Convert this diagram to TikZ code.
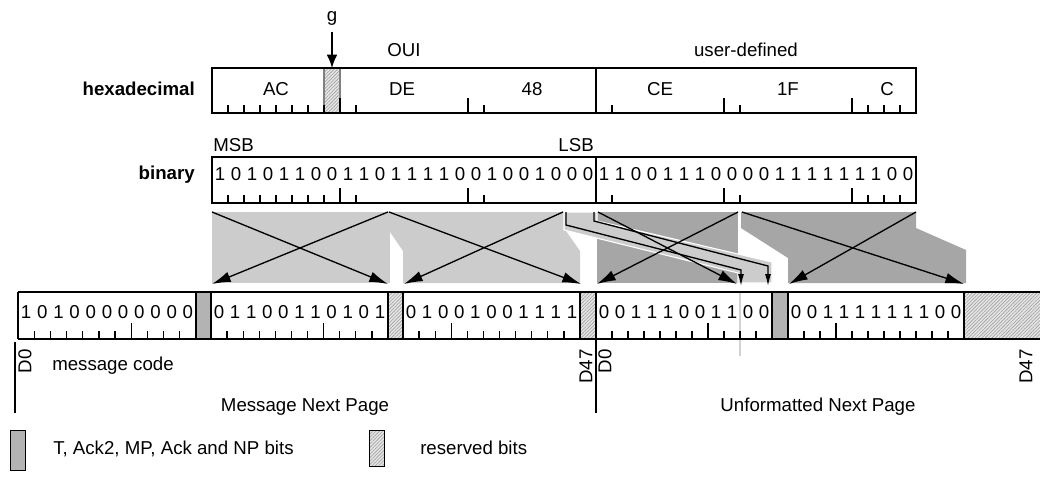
\documentclass[tikz,border=0pt]{standalone}
\usepackage{fontspec}
\setmainfont{Liberation Sans}
\usetikzlibrary{arrows.meta,patterns.meta}
\definecolor{lg}{HTML}{CCCCCC}
\definecolor{dg}{HTML}{A6A6A6}
\definecolor{bitgray}{HTML}{B3B3B3}
\begin{document}
\begin{tikzpicture}[x=0.75pt,y=-0.75pt,
  font=\fontsize{14}{16}\selectfont,
  txt/.style={inner sep=0pt},
  boxline/.style={draw=black,line width=1.4pt},
  tickline/.style={line width=1pt},
  xarrow/.style={line width=1pt,-{Latex[length=14pt,width=8pt]}},
  darrow/.style={line width=1pt,-{Latex[length=9pt,width=4.5pt]}},
  rsvd/.style={preaction={fill=gray!20},pattern={Lines[angle=45,distance=1.8pt,line width=0.45pt]},pattern color=gray!75},
  bitfill/.style={fill=bitgray}]
\useasboundingbox (0,0) rectangle (1040,478);

% ---------- top labels ----------
\node[txt] (g) at (332,18) {g};
\draw[line width=1.1pt,-{Latex[length=10pt,width=8pt]}] (332,32) -- (332,68);
\node[txt] (oui) at (404,50) {OUI};
\node[txt] (user) at (746,50) {user-defined};

% ---------- hexadecimal row ----------
\node[txt,anchor=east] (hexlab) at (195,89) {\bfseries hexadecimal};
\fill[rsvd] (324,68) rectangle (340,113);
\draw[gray,line width=1pt] (324,68) -- (324,113) (340,68) -- (340,113);
\foreach \i in {1,...,7,9,...,15,17,...,23,25,...,31,33,...,39,41,42,43}
  \draw[tickline] ({212+16*\i},113) -- ({212+16*\i},105);
\foreach \i in {8,16,32,40}
  \draw[tickline] ({212+16*\i},113) -- ({212+16*\i},98);
\draw[boxline] (212,68) rectangle (916,113);
\draw[boxline] (596,68) -- (596,113);
\foreach \t/\x [count=\n] in {AC/276,DE/402,48/532,CE/660,1F/788,C/887}
  \node[txt] (hx\n) at (\x,89) {\t};

% ---------- binary row ----------
\node[txt,anchor=west] (msb) at (213,145) {MSB};
\node[txt,anchor=east] (lsb) at (594,145) {LSB};
\node[txt,anchor=east] (binlab) at (195,175) {\bfseries binary};
\foreach \i in {1,...,7,9,...,15,17,...,23,25,...,31,33,...,39,41,42,43}
  \draw[tickline] ({212+16*\i},203) -- ({212+16*\i},195);
\foreach \i in {8,16,32,40}
  \draw[tickline] ({212+16*\i},203) -- ({212+16*\i},188);
\draw[boxline] (212,157) rectangle (916,203);
\draw[boxline] (596,157) -- (596,203);
\foreach \d [count=\k from 0] in {1,0,1,0,1,1,0,0,1,1,0,1,1,1,1,0,0,1,0,0,1,0,0,0,1,1,0,0,1,1,1,0,0,0,0,1,1,1,1,1,1,1,0,0}
  \node[txt] (bin\k) at ({220+16*\k},174) {\d};

% ---------- mapping shapes ----------
\fill[lg] (212,212) rectangle (390,283);
\fill[lg] (390,212) -- (564,212) -- (564,228) -- (580,251) -- (580,283) -- (403,283) -- (403,251) -- (390,232) -- cycle;
\fill[dg] (597,212) rectangle (738,283);
\fill[dg] (741,212) -- (916,212) -- (916,228) -- (966,250) -- (966,283) -- (788,283) -- (788,258) -- (741,228) -- cycle;
\filldraw[fill=lg,draw=white,line width=0.8pt] (564,212) -- (597,212) -- (597,221) -- (772,262) -- (772,283) -- (738,283) -- (738,273) -- (564,230) -- cycle;

\draw[xarrow] (212,212) -- (388,284);
\draw[xarrow] (388,212) -- (212,284);
\draw[xarrow] (389,212) -- (581,284);
\draw[xarrow] (563,212) -- (404,284);
\draw[xarrow] (598,212) -- (737,284);
\draw[xarrow] (738,212) -- (597,284);
\draw[xarrow] (742,212) -- (964,284);
\draw[xarrow] (916,212) -- (789,284);
\draw[darrow] (566,212) -- (566,225) -- (741,270) -- (741,286);
\draw[darrow] (594,212) -- (594,221) -- (768,266) -- (768,286);

% ---------- bottom row ----------
\fill[bitfill] (196,292) rectangle (211,339);
\fill[bitfill] (772,292) rectangle (788,339);
\fill[rsvd] (388,292) rectangle (403,339);
\fill[rsvd] (580,292) rectangle (596,339);
\fill[rsvd] (964,292) rectangle (1040,339);
\draw[gray!35,line width=0.8pt] (740,292) -- (740,356);
\foreach \xa/\xb/\bits/\maj in {18/196/{1,0,1,0,0,0,0,0,0,0,0}/7,
                                211/388/{0,1,1,0,0,1,1,0,1,0,1}/7,
                                403/580/{0,1,0,0,1,0,0,1,1,1,1}/3,
                                596/772/{0,0,1,1,1,0,0,1,1,0,0}/7,
                                788/964/{0,0,1,1,1,1,1,1,1,0,0}/3}{
  \foreach \d [count=\k from 0] in \bits {
    \node[txt] (bt\xa-\k) at ({\xa+(\k+0.5)*(\xb-\xa)/11},312) {\d};
    \ifnum\k>0
      \ifnum\k=\maj
        \draw[tickline] ({\xa+\k*(\xb-\xa)/11},339) -- ({\xa+\k*(\xb-\xa)/11},323);
      \else
        \draw[tickline] ({\xa+\k*(\xb-\xa)/11},339) -- ({\xa+\k*(\xb-\xa)/11},331);
      \fi
    \fi
  }
}
\draw[boxline] (18,292) -- (1040,292) (18,339) -- (1040,339);
\foreach \x in {18,196,211,388,403,580,596,772,788,964}
  \draw[boxline] (\x,292) -- (\x,339);

% ---------- page labels ----------
\draw[line width=1.1pt] (15,342) -- (15,413);
\draw[line width=1.1pt] (596,339) -- (596,413);
\node[txt,rotate=90,anchor=east] (d0a) at (25,349) {D0};
\node[txt,rotate=90,anchor=east] (d47a) at (586,349) {D47};
\node[txt,rotate=90,anchor=east] (d0b) at (605,349) {D0};
\node[txt,rotate=90,anchor=east] (d47b) at (1026,349) {D47};
\node[txt,anchor=west] (mcode) at (52,366) {message code};
\node[txt] (mnp) at (305,407) {Message Next Page};
\node[txt] (unp) at (818,407) {Unformatted Next Page};

% ---------- legend ----------
\filldraw[bitfill,draw=black,line width=0.7pt] (10,430) rectangle (25,470);
\node[txt,anchor=west] (leg1) at (53,449) {T, Ack2, MP, Ack and NP bits};
\filldraw[rsvd,draw=black,line width=0.7pt] (369,430) rectangle (384,466);
\node[txt,anchor=west] (leg2) at (420,448) {reserved bits};
\end{tikzpicture}
\end{document}
